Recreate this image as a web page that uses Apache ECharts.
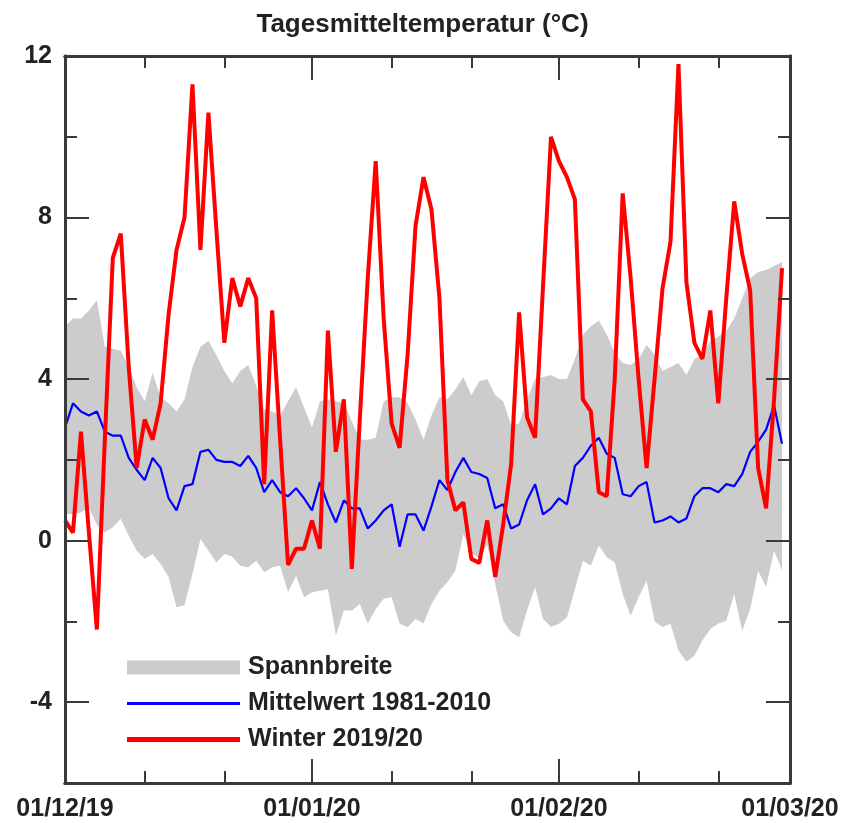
<!DOCTYPE html>
<html><head><meta charset="utf-8">
<script src="https://cdn.jsdelivr.net/npm/echarts@6/dist/echarts.min.js"></script>
<style>html,body{margin:0;padding:0;background:#fff}#c{width:845px;height:823px}</style>
</head><body><div id="c"></div>
<script>
// Winter 2019/20 daily mean temperature, day 0 = 01/12/19
const winter = [0.5,0.2,2.7,0.2,-2.2,2.5,7.0,7.6,4.3,1.8,3.0,2.5,3.4,5.6,7.2,8.0,11.3,7.2,10.6,7.7,
  4.9,6.5,5.8,6.5,6.0,1.4,5.7,2.5,-0.6,-0.2,-0.2,0.5,-0.2,5.2,2.2,3.5,-0.7,3.0,6.5,9.4,
  5.5,2.9,2.3,4.6,7.8,9.0,8.2,6.0,1.5,0.75,0.95,-0.45,-0.55,0.5,-0.9,0.4,1.9,5.65,3.05,2.55,
  6.3,10.0,9.4,9.0,8.45,3.5,3.2,1.2,1.1,4.0,8.6,6.5,4.0,1.8,4.0,6.25,7.4,11.8,6.4,4.9,
  4.5,5.7,3.4,6.0,8.4,7.1,6.2,1.8,0.8,3.5,6.75];
// Mittelwert 1981-2010
const mean = [2.8,3.4,3.2,3.1,3.2,2.7,2.6,2.6,2.05,1.75,1.5,2.05,1.8,1.05,0.75,1.35,1.4,2.2,2.25,2.0,
  1.95,1.95,1.85,2.1,1.8,1.2,1.5,1.2,1.1,1.3,1.05,0.75,1.45,0.9,0.45,1.0,0.8,0.8,0.3,0.5,
  0.75,0.9,-0.15,0.65,0.65,0.25,0.85,1.5,1.25,1.7,2.05,1.7,1.65,1.55,0.8,0.9,0.3,0.4,1.0,1.4,
  0.65,0.8,1.05,0.9,1.85,2.05,2.35,2.55,2.15,2.05,1.15,1.1,1.35,1.45,0.45,0.5,0.6,0.45,0.55,1.1,
  1.3,1.3,1.2,1.4,1.35,1.65,2.2,2.45,2.75,3.35,2.4];
// Spannbreite upper / lower bound
const rangeHigh = [5.3,5.5,5.5,5.7,5.95,4.8,4.75,4.7,4.3,3.8,3.45,4.15,3.55,3.4,3.2,3.5,4.3,4.8,4.95,4.6,
  4.2,3.9,4.2,4.35,3.85,3.25,3.2,3.1,3.45,3.8,3.3,2.8,3.45,3.5,3.45,3.4,2.95,2.5,2.5,2.55,
  3.45,3.55,3.55,3.4,3.0,2.5,3.1,3.55,3.5,3.75,4.05,3.6,3.95,4.0,3.6,3.45,2.85,2.9,3.5,4.0,
  4.05,4.1,4.0,4.0,4.5,5.1,5.3,5.45,5.1,4.65,4.4,4.35,4.5,4.85,4.6,4.2,4.3,4.4,4.1,4.5,
  4.6,4.95,5.05,5.2,5.5,6.0,6.5,6.65,6.7,6.8,6.9];
const rangeLow = [0.66,0.66,0.7,0.82,0.4,0.2,0.33,0.54,0.12,-0.25,-0.45,-0.33,-0.58,-0.9,-1.65,-1.6,-0.82,0.04,-0.25,-0.54,
  -0.33,-0.4,-0.62,-0.66,-0.5,-0.78,-0.66,-0.62,-1.28,-0.87,-1.4,-1.28,-1.24,-1.2,-2.35,-1.73,-1.73,-1.57,-2.06,-1.69,
  -1.44,-1.4,-2.06,-2.14,-1.94,-2.05,-1.57,-1.24,-1.03,-0.74,0.16,-0.3,-0.45,-0.1,-1.07,-1.98,-2.27,-2.39,-1.73,-1.15,
  -1.94,-2.14,-2.06,-1.9,-1.2,-0.5,-0.62,-0.12,-0.41,-0.54,-1.32,-1.86,-1.4,-0.99,-2.0,-2.14,-2.06,-2.72,-3.0,-2.85,
  -2.47,-2.19,-2.05,-1.98,-1.32,-2.23,-1.69,-0.74,-1.15,-0.25,-0.74];

const tickLabels = ['01/12/19','01/01/20','01/02/20','01/03/20'];
const labelDays = [0,31,62,91];
const majorDayTicks = [31,62];
const minorDayTicks = [10,20,41,51,72,82];
const yLabels = [-4,0,4,8,12];
const yMajorTicks = [-4,0,4,8];
const yMinorTicks = [-2,2,6,10];

const pts = arr => arr.map((v,i)=>[i,v]);
const FONT = '"Liberation Sans", Arial, sans-serif';
const AX = '#3a3a3a';
const labelStyle = {fontSize:25, fontWeight:'bold', color:'#222', fontFamily:FONT};

function xAx(pos, ticks, len, showLabel){
  return {type:'value', position:pos, min:0, max:91, z:5,
    axisLine:{show:true, onZero:false, lineStyle:{color:AX, width:3}},
    axisTick:{show:true, inside:true, length:len, customValues:ticks, lineStyle:{color:AX, width:2}},
    axisLabel: showLabel ? Object.assign({show:true, customValues:labelDays, margin:14,
      formatter: v => tickLabels[labelDays.indexOf(v)]}, labelStyle) : {show:false},
    splitLine:{show:false}};
}
function yAx(pos, ticks, len, showLabel){
  return {type:'value', position:pos, min:-6, max:12, z:5,
    axisLine:{show:true, onZero:false, lineStyle:{color:AX, width:3}},
    axisTick:{show:true, inside:true, length:len, customValues:ticks, lineStyle:{color:AX, width:2}},
    axisLabel: showLabel ? Object.assign({show:true, customValues:yLabels, margin:13}, labelStyle) : {show:false},
    splitLine:{show:false}};
}

const chart = echarts.init(document.getElementById('c'), null, {renderer:'canvas'});
chart.setOption({
  animation:false,
  backgroundColor:'#fff',
  title:{text:'Tagesmitteltemperatur (°C)', left:'center', top:7,
    textStyle:Object.assign({}, labelStyle, {fontSize:26})},
  grid:{left:65, right:55, top:56, bottom:40},
  xAxis:[xAx('bottom', majorDayTicks, 24, true), xAx('bottom', minorDayTicks, 12, false),
         xAx('top', majorDayTicks, 24, false), xAx('top', minorDayTicks, 12, false)],
  yAxis:[yAx('left', yMajorTicks, 24, true), yAx('left', yMinorTicks, 12, false),
         yAx('right', yMajorTicks, 24, false), yAx('right', yMinorTicks, 12, false)],
  legend:{orient:'vertical', left:122, top:650, itemWidth:113, itemHeight:14, itemGap:11,
    selectedMode:false, itemStyle:{borderWidth:0},
    data:[{name:'Spannbreite', icon:'rect'},
          {name:'Mittelwert 1981-2010', icon:'path://M0,0H113V2.8H0Z'},
          {name:'Winter 2019/20', icon:'path://M0,0H113V5H0Z'}],
    textStyle:Object.assign({padding:[0,0,0,3]}, labelStyle)},
  series:[
    {type:'custom', name:'Spannbreite', color:'#cccccc', silent:true, z:1,
     data: rangeHigh.map((v,i)=>[i, rangeLow[i], v]),
     encode:{x:0, y:[1,2]},
     renderItem:(params, api)=>{
       if (params.dataIndex !== 0) return null;
       const up = rangeHigh.map((v,i)=>api.coord([i,v]));
       const lo = rangeLow.map((v,i)=>api.coord([i,v])).reverse();
       return {type:'polygon', shape:{points: up.concat(lo)}, style:{fill:'#cccccc'}};
     }},
    {type:'line', name:'Mittelwert 1981-2010', data:pts(mean), symbol:'none', color:'#0000ff',
     lineStyle:{width:2.2, color:'#0000ff'}, z:2},
    {type:'line', name:'Winter 2019/20', data:pts(winter), symbol:'none', color:'#ff0000',
     lineStyle:{width:4, color:'#ff0000'}, z:3}
  ]
});
</script></body></html>
